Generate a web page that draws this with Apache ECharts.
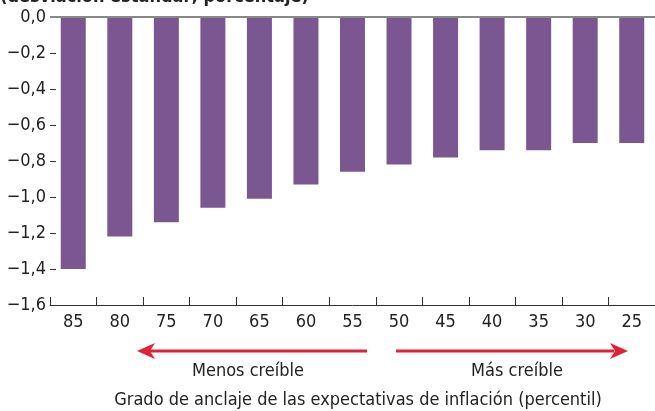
<!DOCTYPE html>
<html lang="es">
<head>
<meta charset="UTF-8">
<title>Grado de anclaje</title>
<style>
  html, body { margin: 0; padding: 0; background: #fff; }
  #main { width: 655px; height: 411px; }
</style>
</head>
<body>
<div id="main"></div>
<script src="https://cdn.jsdelivr.net/npm/echarts@6/dist/echarts.min.js"></script>
<script>
    (function () {
        // percentil de anclaje
        var categories = ['85', '80', '75', '70', '65', '60', '55', '50', '45', '40', '35', '30', '25'];
        var values = [-1.40, -1.22, -1.14, -1.06, -1.01, -0.93, -0.86, -0.82, -0.78, -0.74, -0.74, -0.70, -0.70];
        var yTicks = [0, -0.2, -0.4, -0.6, -0.8, -1.0, -1.2, -1.4, -1.6];

        var font = '"DejaVu Sans Condensed", "Liberation Sans", sans-serif';
        var red = '#e2203a';

        var chart = echarts.init(document.getElementById('main'));

        function fmt(v) {
            return v.toFixed(1).replace('.', ',').replace('-', '\u2212');
        }

        var option = {
            animation: false,
            grid: { left: 50, right: -5, top: 17, bottom: 106 },
            xAxis: {
                type: 'category',
                data: categories,
                axisLine: { show: true, onZero: false, lineStyle: { color: '#333', width: 1 } },
                axisTick: { show: true, inside: true, length: 8, interval: 0, lineStyle: { color: '#333', width: 1 } },
                axisLabel: { color: '#222', fontSize: 18, fontFamily: font, margin: 8 }
            },
            yAxis: {
                type: 'value',
                min: yTicks[yTicks.length - 1],
                max: yTicks[0],
                interval: 0.2,
                axisLine: { show: false },
                axisTick: { show: true, inside: true, length: 6, lineStyle: { color: '#333' } },
                splitLine: { show: false },
                axisLabel: {
                    color: '#222', fontSize: 18, fontFamily: font, margin: 4,
                    formatter: function (v) { return fmt(v); }
                }
            },
            series: [{
                type: 'bar',
                data: values,
                barWidth: 25,
                itemStyle: { color: '#7b5792' },
                markLine: {
                    silent: true,
                    symbol: 'none',
                    label: { show: false },
                    lineStyle: { color: '#888', type: 'solid', width: 2 },
                    data: [{ yAxis: 0 }]
                }
            }],
            graphic: [
                {
                    type: 'text', left: 0, top: -12,
                    style: { text: '(desviación estándar; porcentaje)', font: 'bold 18px ' + font, fill: '#222' }
                },
                // flecha izquierda
                { type: 'line', shape: { x1: 150, y1: 351, x2: 367, y2: 351 }, style: { stroke: red, lineWidth: 3 } },
                { type: 'polygon', shape: { points: [[137, 351], [155, 343], [150, 351], [155, 359]] }, style: { fill: red } },
                // flecha derecha
                { type: 'line', shape: { x1: 396, y1: 351, x2: 614, y2: 351 }, style: { stroke: red, lineWidth: 3 } },
                { type: 'polygon', shape: { points: [[628, 351], [610, 343], [615, 351], [610, 359]] }, style: { fill: red } },
                {
                    type: 'text', x: 248, y: 371,
                    style: { text: 'Menos creíble', font: '18px ' + font, fill: '#222', align: 'center', verticalAlign: 'middle' }
                },
                {
                    type: 'text', x: 517, y: 371,
                    style: { text: 'Más creíble', font: '18px ' + font, fill: '#222', align: 'center', verticalAlign: 'middle' }
                },
                {
                    type: 'text', x: 358, y: 400,
                    style: { text: 'Grado de anclaje de las expectativas de inflación (percentil)', font: '18px ' + font, fill: '#222', align: 'center', verticalAlign: 'middle' }
                }
            ]
        };

        chart.setOption(option);
    })();
</script>
</body>
</html>
